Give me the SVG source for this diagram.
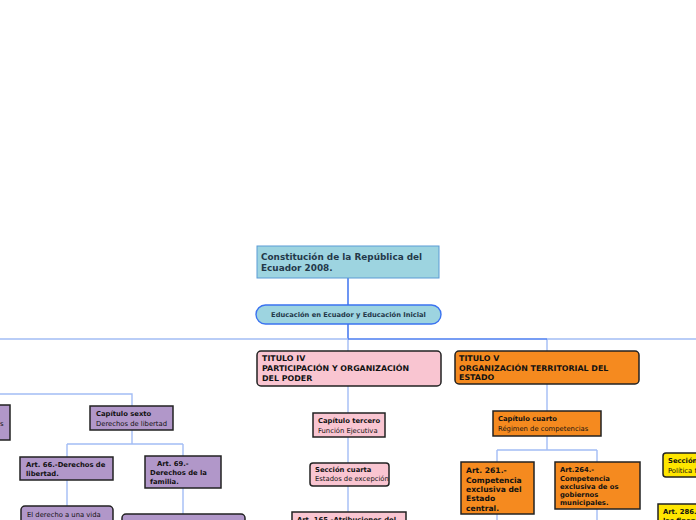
<svg xmlns="http://www.w3.org/2000/svg" width="696" height="520" viewBox="0 0 696 520">
<style>
text{font-family:"DejaVu Sans","Liberation Sans",sans-serif;fill:#111}
.b{font-weight:bold}
.s{font-size:6.8px}
.h{font-size:7.9px;font-weight:bold}
.ln{stroke:#a3bdf5;stroke-width:1.4;fill:none}
.dk{stroke:#4a7cf0;stroke-width:1.6;fill:none}
.nb{stroke:#222;stroke-width:1.5}
.pu{fill:#b197c9}
.pk{fill:#f9c5d1}
.or{fill:#f58a1f}
.ye{fill:#ffe600}
</style>
<rect width="696" height="520" fill="#fff"/>
<g id="connectors">
<path class="dk" d="M348 278V305M348 324V339"/>
<path class="ln" d="M0 339H348M547 339H696M348 339V351M547 339V351"/>
<path class="dk" d="M348 339H547"/>
<path class="ln" d="M0 394H132V406M132 430V444M67 444H183M67 444V457M183 444V456M67 480V506M183 488V514"/>
<path class="ln" d="M348 386V413M348 437V463M348 486V512"/>
<path class="ln" d="M547 384V411M547 436V450M497 450H597M497 450V462M597 450V462M497 514V520M597 509V520"/>
</g>
<g id="root">
<rect x="257" y="246" width="182" height="32" fill="#9dd4e0" stroke="#5b9bd5" stroke-width="1"/>
<text class="b" font-size="8.9" x="261" y="260" style="fill:#24394a">Constitución de la República del</text>
<text class="b" font-size="8.9" x="261" y="271" style="fill:#24394a">Ecuador 2008.</text>
</g>
<g id="educacion">
<rect x="256" y="305" width="185" height="19" rx="9.5" fill="#9dd4e0" stroke="#3b73f0" stroke-width="1.4"/>
<text class="b" font-size="6.7" x="348.5" y="317" text-anchor="middle" style="fill:#24394a">Educación en Ecuador y Educación Inicial</text>
</g>
<g id="titulo4">
<rect class="pk nb" x="257" y="351" width="184" height="35" rx="4"/>
<text class="h" x="262" y="361">TITULO IV</text>
<text class="h" x="262" y="371">PARTICIPACIÓN Y ORGANIZACIÓN</text>
<text class="h" x="262" y="381">DEL PODER</text>
</g>
<g id="titulo5">
<rect class="or nb" x="455" y="351" width="184" height="33" rx="4"/>
<text class="h" x="459" y="361">TITULO V</text>
<text class="h" x="459" y="371">ORGANIZACIÓN TERRITORIAL DEL</text>
<text class="h" x="459" y="380">ESTADO</text>
</g>
<g id="left-partial">
<rect class="pu nb" x="-80" y="405" width="90" height="35"/>
<text class="s" x="0" y="426">s</text>
</g>
<g id="cap6">
<rect class="pu nb" x="90" y="406" width="83" height="24"/>
<text class="s b" x="96" y="416">Capítulo sexto</text>
<text class="s" x="96" y="426">Derechos de libertad</text>
</g>
<g id="art66">
<rect class="pu nb" x="20" y="457" width="93" height="23"/>
<text class="s b" x="26" y="467">Art. 66.-Derechos de</text>
<text class="s b" x="26" y="476">libertad.</text>
</g>
<g id="art69">
<rect class="pu nb" x="145" y="456" width="76" height="32"/>
<text class="s b" x="157" y="466">Art. 69.-</text>
<text class="s b" x="150" y="475">Derechos de la</text>
<text class="s b" x="150" y="484">familia.</text>
</g>
<g id="vida">
<rect class="pu nb" x="21" y="506" width="92" height="24" rx="4"/>
<text class="s" x="27" y="517">El derecho a una vida</text>
</g>
<g id="art69child">
<rect class="pu nb" x="122" y="514" width="123" height="20" rx="4"/>
</g>
<g id="cap3">
<rect class="pk nb" x="313" y="413" width="72" height="24"/>
<text class="s b" x="318" y="423">Capítulo tercero</text>
<text class="s" x="318" y="433">Función Ejecutiva</text>
</g>
<g id="sec4">
<rect class="pk nb" x="310" y="463" width="79" height="23" rx="3"/>
<text class="s b" x="315" y="472">Sección cuarta</text>
<text class="s" x="315" y="481">Estados de excepción</text>
</g>
<g id="art165">
<rect class="pk nb" x="292" y="512" width="114" height="20"/>
<text class="s b" x="297" y="522">Art. 165.-Atribuciones del</text>
</g>
<g id="cap4">
<rect class="or nb" x="493" y="411" width="108" height="25"/>
<text class="s b" x="498" y="421">Capítulo cuarto</text>
<text class="s" x="498" y="431">Régimen de competencias</text>
</g>
<g id="art261">
<rect class="or nb" x="461" y="462" width="73" height="52"/>
<text class="b" font-size="7.6" x="466" y="473">Art. 261.-</text>
<text class="b" font-size="7.6" x="466" y="483">Competencia</text>
<text class="b" font-size="7.6" x="466" y="492">exclusiva del</text>
<text class="b" font-size="7.6" x="466" y="501">Estado</text>
<text class="b" font-size="7.6" x="466" y="511">central.</text>
</g>
<g id="art264">
<rect class="or nb" x="555" y="462" width="85" height="47"/>
<text class="s b" x="560" y="472">Art.264.-</text>
<text class="s b" x="560" y="481">Competencia</text>
<text class="s b" x="560" y="489">exclusiva de os</text>
<text class="s b" x="560" y="497">gobiernos</text>
<text class="s b" x="560" y="505">municipales.</text>
</g>
<g id="seccion-yellow">
<rect class="ye nb" x="663" y="453" width="60" height="24" rx="3"/>
<text class="s b" x="668" y="463">Sección</text>
<text class="s" x="668" y="473">Política fiscal</text>
</g>
<g id="art286">
<rect class="ye nb" x="658" y="504" width="60" height="22"/>
<text class="s b" x="663" y="514">Art. 286.-</text>
<text class="s b" x="663" y="523">las finanzas</text>
</g>
</svg>
